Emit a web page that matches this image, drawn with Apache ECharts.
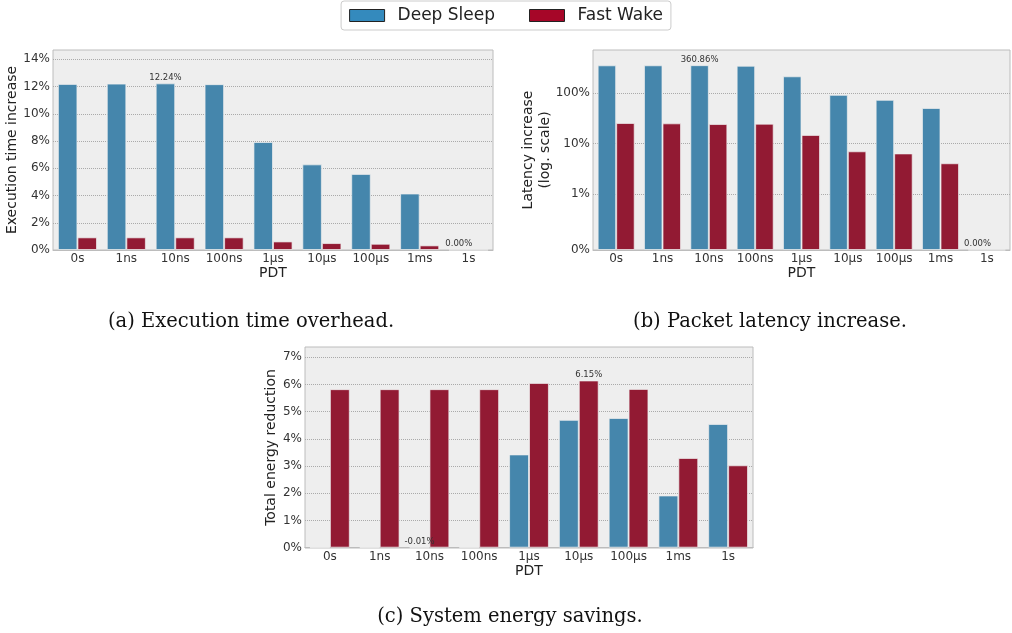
<!DOCTYPE html>
<html>
<head>
<meta charset="utf-8">
<script src="https://cdn.jsdelivr.net/npm/echarts@6/dist/echarts.min.js"></script>
<style>
html,body{margin:0;padding:0;background:#fff;}
#main{width:1012px;height:633px;}
</style>
</head>
<body>
<div id="main"></div>
<script>
// ---------------- data ----------------
const categories = ['0s', '1ns', '10ns', '100ns', '1µs', '10µs', '100µs', '1ms', '1s'];
const seriesNames = ['Deep Sleep', 'Fast Wake'];

// (a) Execution time increase (%)
const execDeep = [12.20, 12.22, 12.24, 12.18, 7.93, 6.29, 5.59, 4.15, 0.00];
const execFast = [0.93, 0.93, 0.93, 0.93, 0.63, 0.51, 0.46, 0.34, 0.00];
const execTicks = [0, 2, 4, 6, 8, 10, 12, 14];

// (b) Latency increase (%), symlog scale
const latDeep = [358.5, 359.2, 360.86, 352.0, 217.0, 93.0, 74.0, 51.0, 0.00];
const latFast = [25.7, 25.3, 24.5, 24.9, 14.9, 7.05, 6.4, 4.08, 0.00];
const latTicks = [0, 1, 10, 100];

// (c) Total energy reduction (%)
const energyDeep = [0.00, 0.00, -0.01, 0.00, 3.43, 4.70, 4.77, 1.92, 4.55];
const energyFast = [5.83, 5.83, 5.83, 5.83, 6.06, 6.15, 5.84, 3.30, 3.03];
const energyTicks = [0, 1, 2, 3, 4, 5, 6, 7];

const captions = ['(a) Execution time overhead.', '(b) Packet latency increase.', '(c) System energy savings.'];

// ---------------- helpers ----------------
const deepColor = '#4586ac', fastColor = '#921a33';
const legendDeep = '#348ABD', legendFast = '#A60628';
const SANS = 'DejaVu Sans';

// matplotlib-like symlog (linthresh=1, linscale=1, base=10)
const LINADJ = 1 / (1 - 1 / 10);
function symlog(v) {
  const a = Math.abs(v);
  const t = a <= 1 ? a * LINADJ : LINADJ + Math.log10(a);
  return v < 0 ? -t : t;
}

// build data with max/min annotations (first occurrence, deep first)
function annotate(deep, fast, transform) {
  const all = [deep, fast];
  let maxS = 0, maxI = 0, minS = 0, minI = 0;
  all.forEach((arr, s) => arr.forEach((v, i) => {
    if (v > all[maxS][maxI]) { maxS = s; maxI = i; }
    if (v < all[minS][minI]) { minS = s; minI = i; }
  }));
  return all.map((arr, s) => arr.map((v, i) => {
    const item = { value: transform ? transform(v) : v };
    if ((s === maxS && i === maxI) || (s === minS && i === minI)) {
      item.label = {
        show: true, position: 'top', distance: 1,
        formatter: v.toFixed(2) + '%',
        fontFamily: SANS, fontSize: 8.5, color: '#333'
      };
    }
    return item;
  }));
}

const execData = annotate(execDeep, execFast);
const latData = annotate(latDeep, latFast, symlog);
const energyData = annotate(energyDeep, energyFast);

const grids = [
  { left: 53, top: 50, width: 440, height: 200 },
  { left: 593, top: 50, width: 417, height: 200 },
  { left: 305, top: 347, width: 448, height: 201 }
].map(g => Object.assign(g, {
  show: true, backgroundColor: '#eeeeee', borderColor: '#bcbcbc', borderWidth: 1
}));

function xAxis(i) {
  return {
    type: 'category', gridIndex: i, data: categories,
    name: 'PDT', nameLocation: 'middle', nameGap: 16, nameMoveOverlap: false,
    nameTextStyle: { fontFamily: SANS, fontSize: 14, color: '#222' },
    axisLine: { show: true, lineStyle: { color: '#bcbcbc', width: 1 } },
    axisTick: { show: false },
    axisLabel: { interval: 0, margin: 3, fontFamily: SANS, fontSize: 12, color: '#333' },
    splitLine: { show: false }
  };
}

function yAxis(i, opts) {
  return Object.assign({
    type: 'value', gridIndex: i,
    nameLocation: 'middle', nameMoveOverlap: false,
    nameTextStyle: { fontFamily: SANS, fontSize: 14, color: '#222', lineHeight: 17 },
    axisLine: { show: false },
    splitLine: { show: true, lineStyle: { color: '#aaaaaa', type: 'dotted', width: 1 } }
  }, opts);
}

const execMax = Math.max(...execDeep, ...execFast) * 1.2;
const latMax = symlog(Math.max(...latDeep, ...latFast) * 2);
const enMax = Math.max(...energyDeep, ...energyFast) * 1.2;
const enMin = Math.min(0, Math.min(...energyDeep, ...energyFast) * 1.2);

const latTickPos = latTicks.map(symlog);

const yAxes = [
  yAxis(0, {
    name: 'Execution time increase', nameGap: 32, min: 0, max: execMax,
    axisTick: { show: false, customValues: execTicks },
    axisLabel: { customValues: execTicks, margin: 3, fontFamily: SANS, fontSize: 12, color: '#333',
      formatter: v => Math.round(v) + '%' }
  }),
  yAxis(1, {
    name: 'Latency increase\n(log. scale)', nameGap: 39, min: 0, max: latMax,
    axisTick: { show: false, customValues: latTickPos },
    axisLabel: { customValues: latTickPos, margin: 3, fontFamily: SANS, fontSize: 12, color: '#333',
      formatter: v => {
        let best = 0;
        latTickPos.forEach((p, k) => { if (Math.abs(p - v) < Math.abs(latTickPos[best] - v)) best = k; });
        return latTicks[best] + '%';
      } }
  }),
  yAxis(2, {
    name: 'Total energy reduction', nameGap: 25, min: enMin, max: enMax,
    axisTick: { show: false, customValues: energyTicks },
    axisLabel: { customValues: energyTicks, margin: 3, fontFamily: SANS, fontSize: 12, color: '#333',
      formatter: v => Math.round(v) + '%' }
  })
];

const dataSets = [execData, latData, energyData];
const series = [];
dataSets.forEach((d, i) => {
  [0, 1].forEach(s => {
    series.push({
      type: 'bar', name: seriesNames[s], xAxisIndex: i, yAxisIndex: i,
      data: d[s],
      barCategoryGap: '20%', barGap: '0%',
      itemStyle: { color: s === 0 ? deepColor : fastColor, borderColor: 'rgba(240,240,240,0.7)', borderWidth: 1 },
      emphasis: { disabled: true },
      animation: false
    });
  });
});

const captionPos = [[251, 322], [770, 322], [510, 617]];
const graphic = captions.map((t, k) => ({
  type: 'text', x: captionPos[k][0], y: captionPos[k][1],
  style: { text: t, fontFamily: 'DejaVu Serif', fontSize: 19.5, fill: '#111',
    textAlign: 'center', textVerticalAlign: 'middle' }
}));

const chart = echarts.init(document.getElementById('main'), null, { renderer: 'canvas' });
chart.setOption({
  animation: false,
  backgroundColor: '#ffffff',
  legend: {
    top: 1, left: 'center',
    data: [
      { name: 'Deep Sleep', itemStyle: { color: legendDeep, borderColor: '#222', borderWidth: 1 } },
      { name: 'Fast Wake', itemStyle: { color: legendFast, borderColor: '#222', borderWidth: 1 } }
    ],
    icon: 'rect', itemWidth: 35, itemHeight: 12, itemGap: 34,
    padding: [6, 8, 6, 8],
    borderColor: '#cccccc', borderWidth: 1, borderRadius: 3, backgroundColor: '#ffffff',
    textStyle: { fontFamily: SANS, fontSize: 17, color: '#222', padding: [0, 0, 0, 8] },
    selectedMode: false
  },
  grid: grids,
  xAxis: [xAxis(0), xAxis(1), xAxis(2)],
  yAxis: yAxes,
  series: series,
  graphic: graphic
});
</script>
</body>
</html>
